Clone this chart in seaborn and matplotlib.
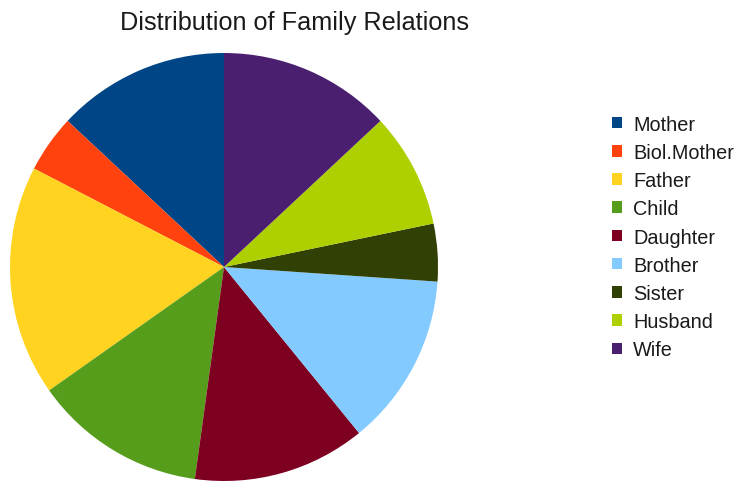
import matplotlib
matplotlib.use("Agg")
import matplotlib.pyplot as plt
import seaborn as sns
from matplotlib.patches import Patch

labels = ["Mother", "Biol.Mother", "Father", "Child", "Daughter",
          "Brother", "Sister", "Husband", "Wife"]
counts = [3, 1, 4, 3, 3, 3, 1, 2, 3]
colors = ["#004586", "#ff420e", "#ffd320", "#579d1c", "#7e0021",
          "#83caff", "#314004", "#aecf00", "#4b1f6f"]
title = "Distribution of Family Relations"

sns.set_theme(style="white")
plt.rcParams["font.family"] = ["Liberation Sans", "DejaVu Sans"]

fig = plt.figure(figsize=(7.36, 4.85), dpi=100)
ax = fig.add_axes([10 / 736, 3 / 485, 428 / 736, 428 / 485])
ax.pie(counts, colors=colors, startangle=90, counterclock=True,
       wedgeprops=dict(linewidth=0))
ax.set_aspect("equal")
ax.set_xlim(-1, 1)
ax.set_ylim(-1, 1)
ax.axis("off")

fig.text(294 / 736, 1 - 23 / 485, title, ha="center", va="center",
         fontsize=18.2, color="#1a1a1a")

handles = [Patch(facecolor=c, edgecolor="none") for c in colors]
fig.legend(handles, labels, loc="center left",
           bbox_to_anchor=(612 / 736, 1 - 238 / 485),
           frameon=False, borderpad=0, borderaxespad=0,
           handlelength=0.52, handleheight=0.52, handletextpad=0.55,
           labelspacing=0.465, fontsize=14.3, labelcolor="#1a1a1a")

fig.savefig("out.png", dpi=100)
